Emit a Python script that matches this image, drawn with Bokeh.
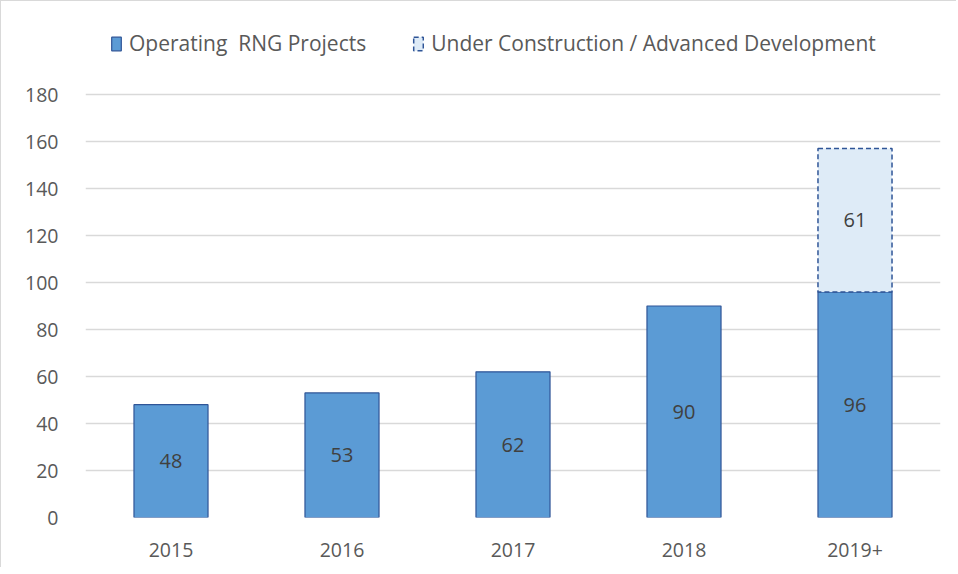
from bokeh.plotting import figure
from bokeh.models import ColumnDataSource, Legend, LegendItem, LabelSet, FixedTicker
from bokeh.embed import file_html
from bokeh.resources import INLINE
from bokeh.core.properties import value

years = ["2015", "2016", "2017", "2018", "2019+"]
operating = [48, 53, 62, 90, 96]
under_construction = [0, 0, 0, 0, 61]
y_ticks = [0, 20, 40, 60, 80, 100, 120, 140, 160, 180]

FONT = "Open Sans"

top_uc = [o + u for o, u in zip(operating, under_construction)]
src = ColumnDataSource(dict(
    x=years,
    op=operating,
    op_mid=[v / 2 for v in operating],
    op_lbl=[str(v) for v in operating],
))
uc_years = [y for y, u in zip(years, under_construction) if u > 0]
uc_src = ColumnDataSource(dict(
    x=uc_years,
    bottom=[o for o, u in zip(operating, under_construction) if u > 0],
    top=[t for t, u in zip(top_uc, under_construction) if u > 0],
    mid=[o + u / 2 for o, u in zip(operating, under_construction) if u > 0],
    lbl=[str(u) for u in under_construction if u > 0],
))

# frame spans page y 20..517; 180 sits at y=94 (2.35 px per unit)
p = figure(x_range=years, y_range=(0, 211.5), width=956, height=567,
           output_backend="svg", toolbar_location=None,
           min_border_left=84, min_border_right=17, min_border_top=19,
           min_border_bottom=51)
p.outline_line_color = None
p.background_fill_color = "white"
p.border_fill_color = "white"
p.styles = {"border-left": "1px solid #d9d9d9", "border-top": "1px solid #d9d9d9"}

r1 = p.vbar(x="x", top="op", bottom=0, width=0.433, source=src,
            fill_color="#5B9BD5", line_color="#2F5597", line_width=1.2)
r2 = p.vbar(x="x", top="top", bottom="bottom", width=0.433, source=uc_src,
            fill_color="#DEEBF7", line_color="#2F5597", line_width=1.5,
            line_dash="5 3")

lbl_style = dict(text_align="center", text_baseline="middle",
                 text_font=value(FONT), text_font_size="20px", text_color="#404040")
p.add_layout(LabelSet(x="x", y="op_mid", text="op_lbl", source=src, **lbl_style))
p.add_layout(LabelSet(x="x", y="mid", text="lbl", source=uc_src, **lbl_style))

p.yaxis.ticker = FixedTicker(ticks=y_ticks)
for ax in (p.xaxis[0], p.yaxis[0]):
    ax.axis_line_color = None
    ax.major_tick_line_color = None
    ax.minor_tick_line_color = None
    ax.major_label_text_font = FONT
    ax.major_label_text_font_size = "19.5px"
    ax.major_label_text_color = "#595959"
p.yaxis.major_label_standoff = 21
p.xaxis.major_label_standoff = 19
p.xgrid.grid_line_color = None
p.ygrid.grid_line_color = "#d9d9d9"
p.ygrid.grid_line_width = 1.5
p.x_range.range_padding = 0

legend = Legend(items=[
    LegendItem(label="Operating  RNG Projects", renderers=[r1]),
    LegendItem(label="Under Construction / Advanced Development", renderers=[r2]),
], orientation="horizontal", location=(25, 460))
legend.label_text_font = FONT
legend.label_text_font_size = "21px"
legend.label_text_color = "#595959"
legend.glyph_width = 12
legend.glyph_height = 17
legend.label_standoff = 7
legend.spacing = 46
legend.border_line_color = None
legend.background_fill_alpha = 0
legend.padding = 0
legend.margin = 0
p.add_layout(legend)

open("out.html", "w").write(file_html(p, INLINE))
